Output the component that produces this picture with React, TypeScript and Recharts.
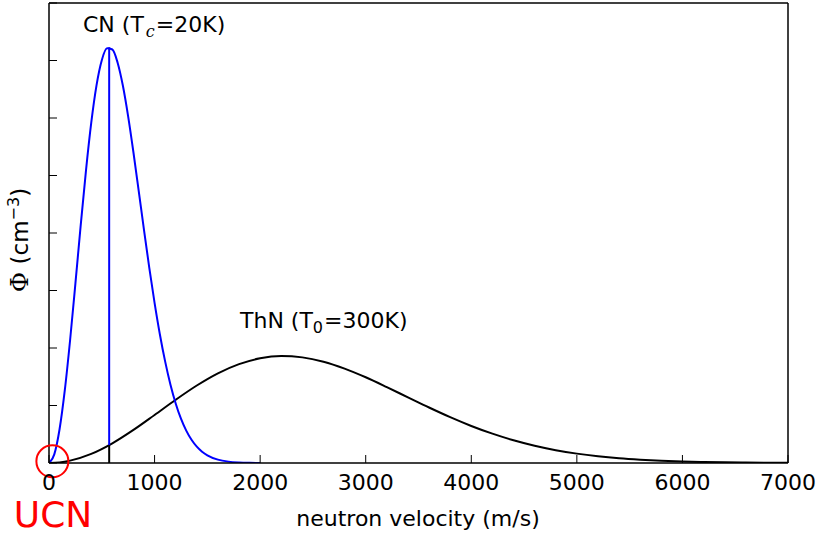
import { LineChart, Line, XAxis, YAxis, ReferenceLine, ReferenceDot } from 'recharts';

// cold neutrons (Tc = 20K)
const cnVelocity = [
  0, 50, 100, 150, 200, 250, 300, 350, 400, 450, 500, 550, 600, 650, 700, 750, 800, 850, 900, 950,
  1000, 1050, 1100, 1150, 1200, 1250, 1300, 1350, 1400, 1450, 1500, 1600, 1700, 1800, 1900, 2000,
];
const cnFlux = [
  0, 0.15, 0.587, 1.27, 2.139, 3.119, 4.127, 5.082, 5.915, 6.568, 7.006, 7.212, 7.191, 6.962, 6.56, 6.025,
  5.4, 4.729, 4.05, 3.394, 2.786, 2.24, 1.767, 1.366, 1.036, 0.771, 0.563, 0.404, 0.284, 0.197, 0.134,
  0.059, 0.024, 0.009, 0.003, 0.001,
];

// thermal neutrons (T0 = 300K), black curve
const thnVelocity = [
  0, 100, 200, 400, 600, 800, 1000, 1200, 1400, 1600, 1800, 2000, 2200, 2400, 2600, 2800, 3000, 3200,
  3400, 3600, 3800, 4000, 4200, 4400, 4600, 4800, 5000, 5200, 5400, 5600, 5800, 6000, 6200, 6400, 6600,
  6800, 7000,
];
const thnFlux = [
  0, 0.01, 0.041, 0.158, 0.342, 0.575, 0.835, 1.1, 1.348, 1.56, 1.72, 1.821, 1.86, 1.837, 1.762, 1.642,
  1.491, 1.32, 1.142, 0.965, 0.797, 0.644, 0.51, 0.395, 0.3, 0.223, 0.163, 0.117, 0.082, 0.057, 0.038,
  0.025, 0.017, 0.011, 0.007, 0.004, 0.0025,
];

// most probable CN velocity marker
const cnPeakVelocity = 570;
const cnPeakFlux = 7.23;
const thnAtCnPeak = 0.31;
// UCN marker near the origin
const ucnVelocity = 32;
const ucnFlux = 0.03;

const xTicks = [0, 1000, 2000, 3000, 4000, 5000, 6000, 7000];
const yTicks = [0, 1, 2, 3, 4, 5, 6, 7, 8];

const cnData = cnVelocity.map((v, i) => ({ v, flux: cnFlux[i] }));
const thnData = thnVelocity.map((v, i) => ({ v, flux: thnFlux[i] }));

const FONT = 'DejaVu Sans, sans-serif';
const axisLine = { stroke: '#000', strokeWidth: 1.5 };
const tickLine = { stroke: '#000', strokeWidth: 1 };

export default function App() {
  return (
    <div style={{ position: 'absolute', left: 0, top: 0, width: 819, height: 534, background: '#fff' }}>
      <LineChart width={819} height={534} margin={{ top: 2, right: 30, bottom: 70, left: 48 }}>
        <XAxis
          xAxisId="bottom"
          dataKey="v"
          type="number"
          domain={[0, 7000]}
          ticks={xTicks}
          height={1}
          tickSize={-8}
          tickMargin={19}
          axisLine={axisLine}
          tickLine={tickLine}
          tick={{ fontSize: 22, fill: '#000', fontFamily: FONT }}
          interval={0}
          allowDataOverflow
        />
        <XAxis
          xAxisId="top"
          orientation="top"
          dataKey="v"
          type="number"
          domain={[0, 7000]}
          ticks={xTicks}
          height={1}
          tickSize={-8}
          axisLine={axisLine}
          tickLine={tickLine}
          tickFormatter={() => ''}
          interval={0}
        />
        <YAxis
          yAxisId="left"
          type="number"
          domain={[0, 8]}
          ticks={yTicks}
          width={1}
          tickSize={-8}
          axisLine={axisLine}
          tickLine={tickLine}
          tickFormatter={() => ''}
          interval={0}
          allowDataOverflow
        />
        <YAxis
          yAxisId="right"
          orientation="right"
          type="number"
          domain={[0, 8]}
          ticks={yTicks}
          width={1}
          tickSize={-8}
          axisLine={axisLine}
          tickLine={tickLine}
          tickFormatter={() => ''}
          interval={0}
        />
        <Line
          xAxisId="bottom"
          yAxisId="left"
          data={thnData}
          dataKey="flux"
          type="monotone"
          stroke="#000"
          strokeWidth={2}
          dot={false}
          isAnimationActive={false}
        />
        <Line
          xAxisId="bottom"
          yAxisId="left"
          data={cnData}
          dataKey="flux"
          type="monotone"
          stroke="#0000ff"
          strokeWidth={2}
          dot={false}
          isAnimationActive={false}
        />
        <ReferenceLine
          xAxisId="bottom"
          yAxisId="left"
          segment={[{ x: cnPeakVelocity, y: thnAtCnPeak }, { x: cnPeakVelocity, y: cnPeakFlux }]}
          stroke="#0000ff"
          strokeWidth={2}
        />
        <ReferenceLine
          xAxisId="bottom"
          yAxisId="left"
          segment={[{ x: cnPeakVelocity, y: 0 }, { x: cnPeakVelocity, y: thnAtCnPeak }]}
          stroke="#000"
          strokeWidth={2}
        />
        <ReferenceDot
          xAxisId="bottom"
          yAxisId="left"
          x={ucnVelocity}
          y={ucnFlux}
          r={16}
          fill="none"
          stroke="#ff0000"
          strokeWidth={2}
          ifOverflow="visible"
        />
      </LineChart>
      <svg
        width={819}
        height={534}
        style={{ position: 'absolute', left: 0, top: 0, pointerEvents: 'none' }}
        fontFamily={FONT}
      >
        <text x={83} y={32} fontSize={22} fill="#000">
          CN (T
          <tspan dx={2} dy={5} fontSize={16} fontStyle="italic" fontFamily="DejaVu Serif, serif">c</tspan>
          <tspan dx={1} dy={-5}>=20K)</tspan>
        </text>
        <text x={240} y={328} fontSize={22} fill="#000">
          ThN (T
          <tspan dy={5} fontSize={16}>0</tspan>
          <tspan dx={1} dy={-5}>=300K)</tspan>
        </text>
        <text x={53} y={527} fontSize={36} fill="#ff0000" textAnchor="middle">UCN</text>
        <text x={418} y={526} fontSize={22} fill="#000" textAnchor="middle">neutron velocity (m/s)</text>
        <text x={0} y={0} fontSize={23} fill="#000" textAnchor="middle" transform="translate(28 240) rotate(-90)">
          <tspan fontFamily="DejaVu Serif, serif" fontSize={25}>Φ</tspan> (cm
          <tspan dy={-9} fontSize={16}>−3</tspan>
          <tspan dy={9}>)</tspan>
        </text>
      </svg>
    </div>
  );
}
